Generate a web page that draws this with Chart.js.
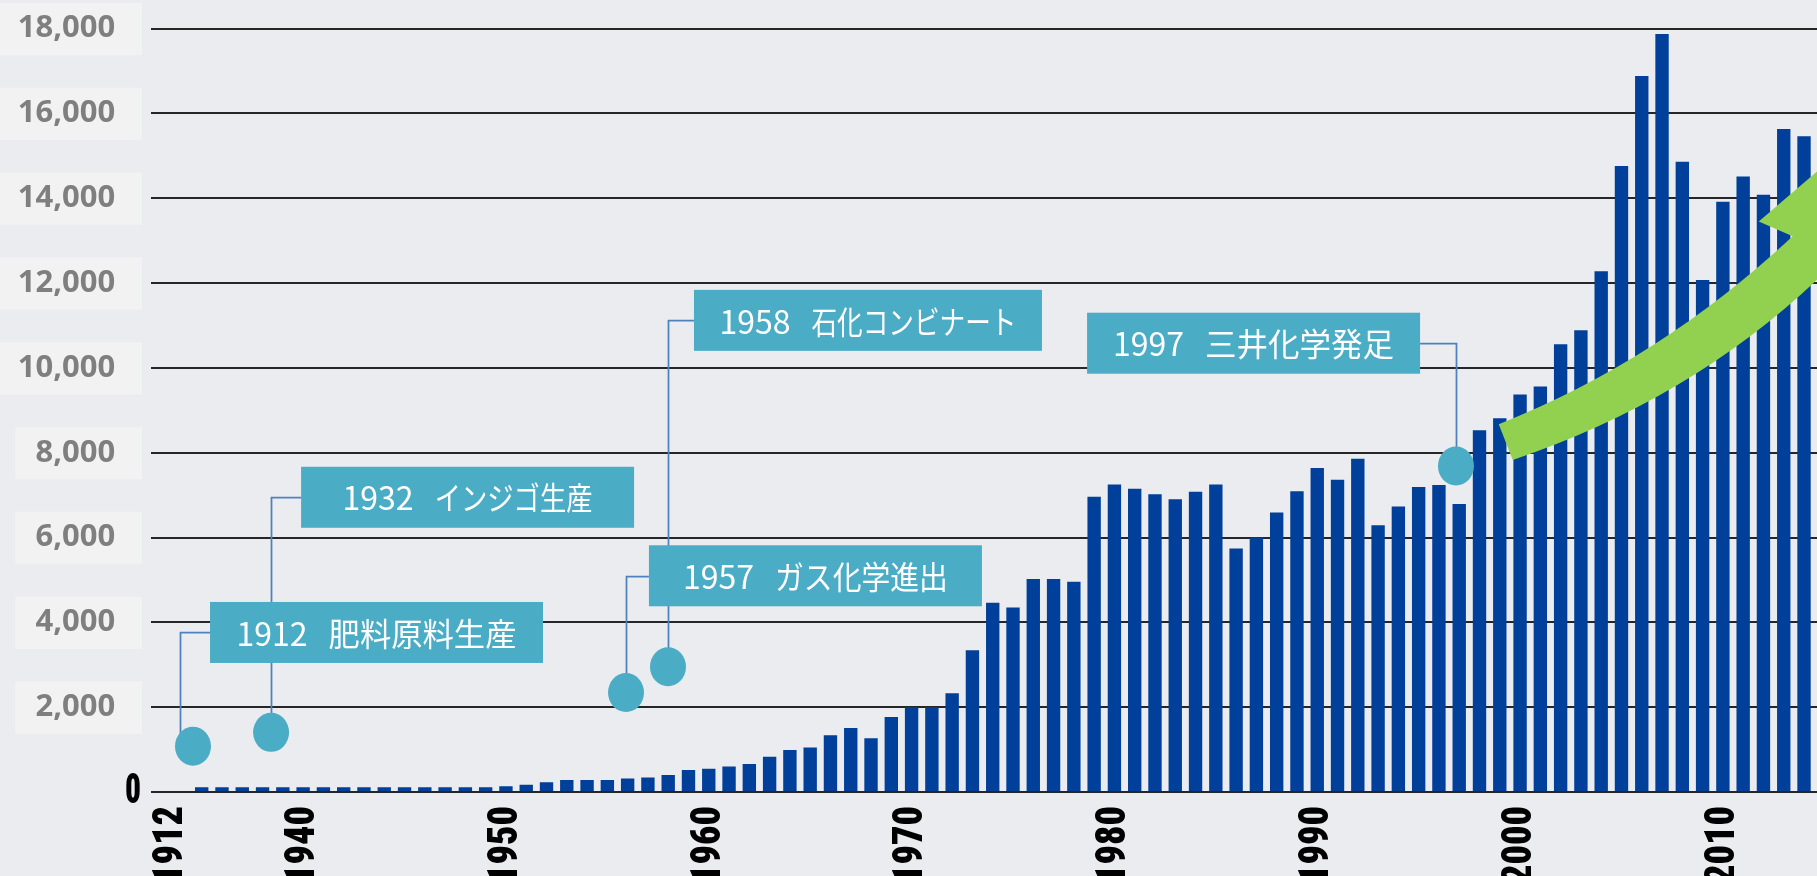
<!DOCTYPE html>
<html lang="ja">
<head>
<meta charset="utf-8">
<title>生産量の推移</title>
<script src="https://cdn.jsdelivr.net/npm/chart.js@4.4.1/dist/chart.umd.min.js"></script>
<style>
  html, body { margin: 0; padding: 0; background: #ebecf0; overflow: hidden; }
  #graph { display: block; }
</style>
</head>
<body>
<canvas id="graph" width="1817" height="876"></canvas>
<script>
// ---- data ----
const years = [
  1935, 1936, 1937, 1938, 1939, 1940, 1941, 1942, 1943, 1944,
  1945, 1946, 1947, 1948, 1949, 1950, 1951, 1952, 1953, 1954,
  1955, 1956, 1957, 1958, 1959, 1960, 1961, 1962, 1963, 1964,
  1965, 1966, 1967, 1968, 1969, 1970, 1971, 1972, 1973, 1974,
  1975, 1976, 1977, 1978, 1979, 1980, 1981, 1982, 1983, 1984,
  1985, 1986, 1987, 1988, 1989, 1990, 1991, 1992, 1993, 1994,
  1995, 1996, 1997, 1998, 1999, 2000, 2001, 2002, 2003, 2004,
  2005, 2006, 2007, 2008, 2009, 2010, 2011, 2012, 2013, 2014
];
const production = [
  110, 110, 110, 110, 110, 110, 110, 110, 110, 110,
  110, 110, 110, 110, 110, 135, 170, 230, 280, 280,
  280, 320, 340, 400, 520, 550, 600, 660, 830, 990,
  1050, 1340, 1510, 1270, 1770, 2000, 2000, 2330, 3340, 4460,
  4350, 5020, 5020, 4960, 6960, 7250, 7150, 7020, 6900, 7080,
  7250, 5740, 6000, 6590, 7090, 7640, 7360, 7860, 6290, 6730,
  7190, 7240, 6790, 8530, 8810, 9370, 9560, 10560, 10890, 12280,
  14760, 16880, 17870, 14860, 12070, 13920, 14510, 14080, 15630, 15460
];
const firstLabel = '1912';
const tickYears = [1940, 1950, 1960, 1970, 1980, 1990, 2000, 2010];
const eventYears = ['1912', '1932', '1957', '1958', '1997'];
const eventNames = ['肥料原料生産', 'インジゴ生産', 'ガス化学進出', '石化コンビナート', '三井化学発足'];

// ---- layout (in axis units, box sizes in px) ----
const BREAK_POS = 1933.5;   // where the 1912 label sits, before the axis break
const eventLayout = [
  { dot: [1934.57, 1078], lineX: 1933.93, box: [1935.41, 3762], side: 'left', w: 333, textW: 280 },
  { dot: [1938.42, 1406], lineX: 1938.42, box: [1939.90, 6949], side: 'left', w: 333, textW: 250 },
  { dot: [1955.92, 2344], lineX: 1955.92, box: [1957.05, 5098], side: 'left', w: 333, textW: 265 },
  { dot: [1957.99, 2953], lineX: 1957.99, box: [1959.27, 11121], side: 'left', w: 348, textW: 297 },
  { dot: [1996.84, 7688], lineX: 1996.84, box: [1995.07, 10582], side: 'right', w: 333, textW: 281 }
];
// green growth arrow: top edge curve, head, bottom edge curve
const arrowShape = {
  tail: [1998.95, 8672], topCtrl: [2006.89, 10172], notch: [2013.44, 13102],
  barb1: [2011.77, 13453], tip: [2017.27, 15705], barb2: [2017.48, 12255],
  neck: [2015.81, 12605], bottomEnd: [2014.63, 12070], bottomCtrl: [2008.32, 9223],
  bottomTail: [1999.64, 7828]
};

const BG = '#ebecf0';
const BAR = '#00409a';
const TEAL = '#4bacc6';
const LINK = '#4f81bd';
const GREEN = '#92d050';

const yFont = { family: '"Noto Sans", "Open Sans", sans-serif', size: 31, weight: 'bold' };
const heavyFont = { family: '"Roboto Condensed", Roboto, "Liberation Sans", sans-serif', size: 43, weight: '900' };
const YEAR_LABEL_LEN = 78;   // squeeze year labels to a condensed look
const ZERO_LABEL_LEN = 16;

const paper = {
  id: 'paper',
  beforeDraw(chart) {
    const c = chart.ctx;
    c.save();
    c.fillStyle = BG;
    c.fillRect(0, 0, chart.width, chart.height);
    c.restore();
    // no condensed face installed: let fillText squeeze the axis labels
    chart.scales.x.getLabelItems(chart.chartArea).forEach(it => { it.options.maxWidth = YEAR_LABEL_LEN; });
    const ys = chart.scales.y;
    ys.getLabelItems(chart.chartArea).forEach((it, i) => {
      if (ys.ticks[i] && ys.ticks[i].value === 0) it.options.maxWidth = ZERO_LABEL_LEN;
    });
  }
};

const notes = {
  id: 'notes',
  afterDraw(chart) {
    const c = chart.ctx;
    const xs = chart.scales.x, ys = chart.scales.y;
    const px = v => xs.getPixelForValue(v);
    const py = v => ys.getPixelForValue(v);
    const pt = p => [px(p[0]), py(p[1])];
    c.save();

    // arrow
    const a = arrowShape;
    const t0 = pt(a.tail), tc = pt(a.topCtrl), n = pt(a.notch);
    const b1 = pt(a.barb1), tp = pt(a.tip), b2 = pt(a.barb2);
    const nk = pt(a.neck), be = pt(a.bottomEnd), bc = pt(a.bottomCtrl), bt = pt(a.bottomTail);
    c.fillStyle = GREEN;
    c.beginPath();
    c.moveTo(t0[0], t0[1]);
    c.quadraticCurveTo(tc[0], tc[1], n[0], n[1]);
    c.lineTo(b1[0], b1[1]);
    c.lineTo(tp[0], tp[1]);
    c.lineTo(b2[0], b2[1]);
    c.lineTo(nk[0], nk[1]);
    c.lineTo(be[0], be[1]);
    c.quadraticCurveTo(bc[0], bc[1], bt[0], bt[1]);
    c.closePath();
    c.fill();

    // connectors first, boxes over them, dots last
    c.strokeStyle = LINK;
    c.lineWidth = 1.75;
    eventLayout.forEach(e => {
      const lx = Math.round(px(e.lineX)) + 0.5;
      const by = Math.round(py(e.box[1])) + 0.5;
      c.beginPath();
      c.moveTo(lx, py(e.dot[1]));
      c.lineTo(lx, by);
      c.lineTo(px(e.box[0]), by);
      c.stroke();
    });

    const GAP = 21;
    c.font = '32px "Noto Sans CJK JP", sans-serif';
    c.textAlign = 'left';
    c.textBaseline = 'middle';
    eventLayout.forEach((e, i) => {
      const h = 61;
      const bx = px(e.box[0]);
      const left = e.side === 'left' ? bx : bx - e.w;
      const top = py(e.box[1]) - h / 2;
      c.fillStyle = TEAL;
      c.fillRect(left, top, e.w, h);

      const yr = eventYears[i], nm = eventNames[i];
      const yw = c.measureText(yr).width;
      const nameMax = e.textW - yw - GAP;
      const nw = Math.min(c.measureText(nm).width, nameMax);
      const x0 = left + e.w / 2 - (yw + GAP + nw) / 2;
      const cy = top + h / 2 + 1;
      c.fillStyle = '#ffffff';
      c.fillText(yr, x0, cy);
      c.fillText(nm, x0 + yw + GAP, cy, nameMax);
    });

    c.fillStyle = TEAL;
    eventLayout.forEach(e => {
      c.beginPath();
      c.ellipse(px(e.dot[0]), py(e.dot[1]), 18, 19.5, 0, 0, Math.PI * 2);
      c.fill();
    });
    c.restore();
  }
};

new Chart(document.getElementById('graph'), {
  type: 'bar',
  data: {
    labels: years,
    datasets: [{
      data: production,
      backgroundColor: BAR,
      borderWidth: 0,
      barPercentage: 0.66,
      categoryPercentage: 1
    }]
  },
  options: {
    responsive: false,
    animation: false,
    events: [],
    layout: { padding: { top: 24, left: 0, right: 0, bottom: 0 } },
    plugins: { legend: { display: false }, tooltip: { enabled: false } },
    scales: {
      x: {
        type: 'linear',
        min: 1932.5,
        max: 2014.64,
        offset: false,
        grid: { display: false, drawTicks: false, offset: false },
        border: { display: false },
        afterBuildTicks: axis => {
          axis.ticks = [BREAK_POS].concat(tickYears).map(v => ({ value: v }));
        },
        afterFit: axis => { axis.height = 84; },
        ticks: {
          autoSkip: false,
          minRotation: 90,
          maxRotation: 90,
          padding: 14,
          color: '#000000',
          font: heavyFont,
          callback: v => (v === BREAK_POS ? firstLabel : String(v))
        }
      },
      y: {
        min: 0,
        max: 18000,
        grid: { color: '#262626', lineWidth: 2, drawTicks: false },
        border: { display: false },
        afterFit: axis => { axis.width = 151; },
        ticks: {
          stepSize: 2000,
          padding: 10,
          color: ctx => (ctx.tick && ctx.tick.value === 0 ? '#000000' : '#7f7f7f'),
          font: ctx => (ctx.tick && ctx.tick.value === 0 ? heavyFont : yFont),
          showLabelBackdrop: true,
          backdropColor: ctx => (ctx.tick && ctx.tick.value === 0 ? 'rgba(0,0,0,0)' : '#f2f2f2'),
          backdropPadding: { top: 7, bottom: 8, left: 20, right: 1 },
          // trailing figure space + space keeps the numbers left of the "0"
          callback: v => (v === 0 ? '0' : v.toLocaleString('en-US') + '\u2007 ')
        }
      }
    }
  },
  plugins: [paper, notes]
});
</script>
</body>
</html>
